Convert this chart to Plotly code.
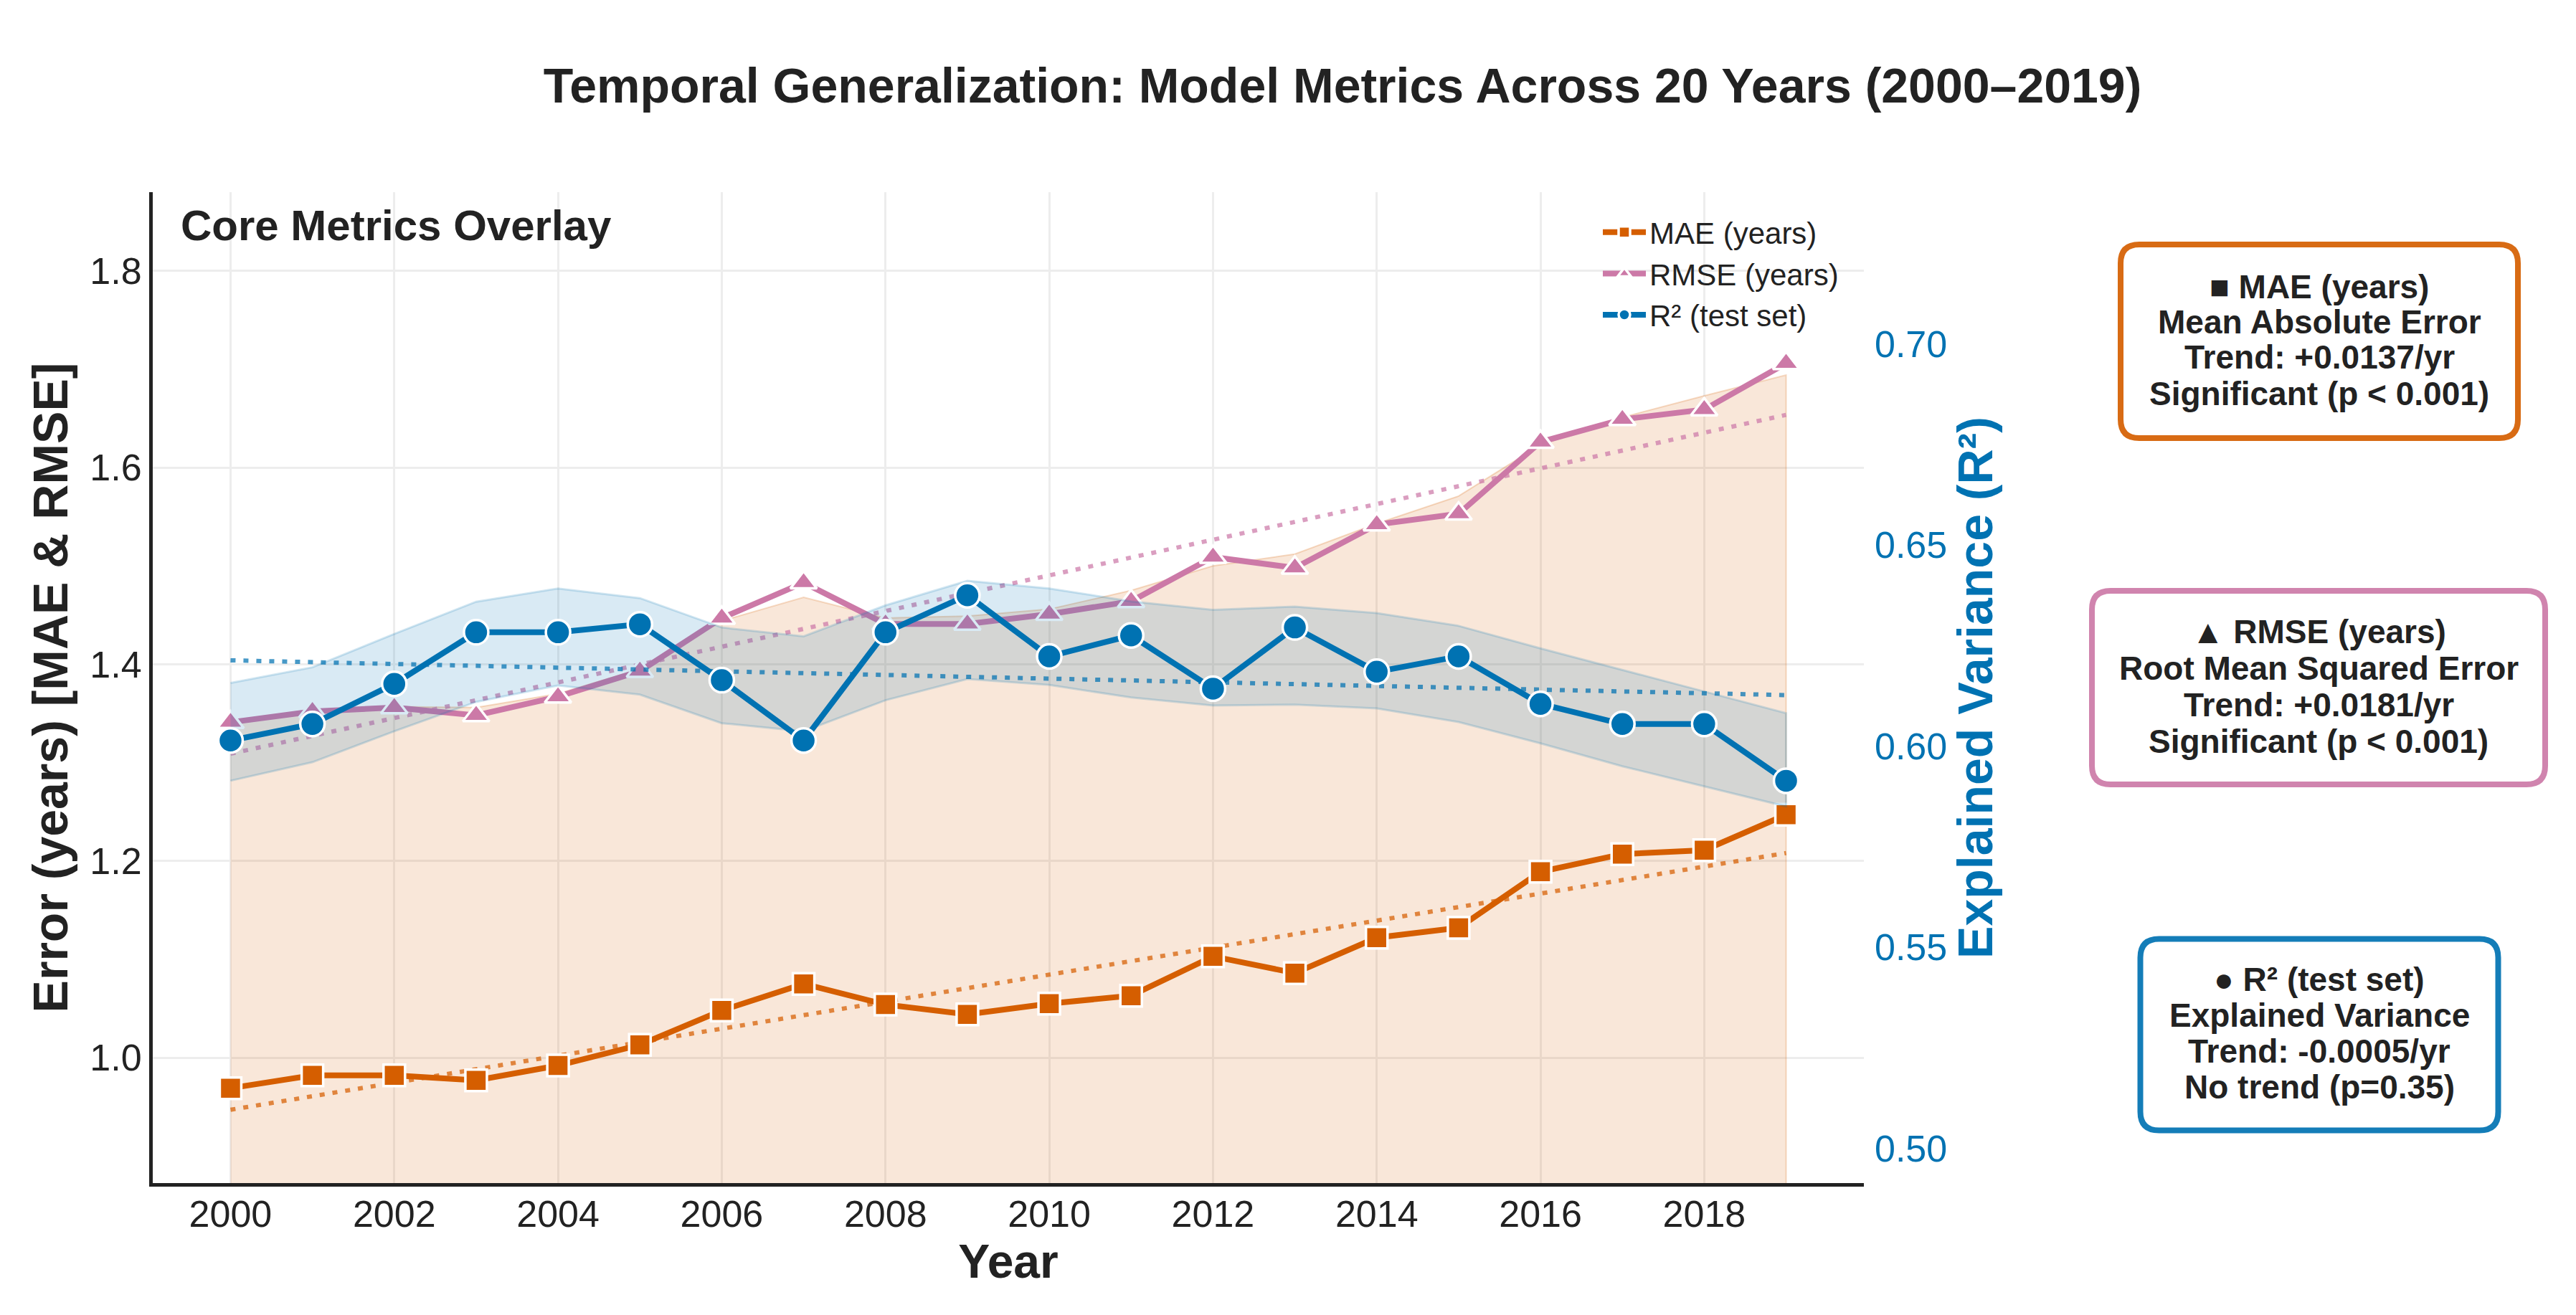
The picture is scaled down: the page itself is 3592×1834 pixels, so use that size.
import numpy as np
import plotly.graph_objects as go

# ---------------- data ----------------
years = list(range(2000, 2020))
mae = [0.969, 0.982, 0.982, 0.977, 0.992, 1.013, 1.048, 1.075, 1.054, 1.044,
       1.055, 1.063, 1.103, 1.086, 1.122, 1.132, 1.189, 1.207, 1.211, 1.247]
rmse = [1.341, 1.352, 1.356, 1.348, 1.367, 1.393, 1.447, 1.483, 1.441, 1.441,
        1.451, 1.464, 1.509, 1.498, 1.542, 1.553, 1.626, 1.649, 1.659, 1.706]
r2 = [0.6014, 0.6055, 0.6155, 0.6283, 0.6283, 0.6303, 0.6164, 0.6014, 0.6283, 0.6375,
      0.6223, 0.6275, 0.6143, 0.6295, 0.6185, 0.6223, 0.6105, 0.6055, 0.6055, 0.5914]
r2_upper = [0.6157, 0.6196, 0.6279, 0.6359, 0.6392, 0.6368, 0.6295, 0.6273, 0.6350, 0.6411,
            0.6392, 0.6360, 0.6339, 0.6347, 0.6331, 0.6299, 0.6243, 0.6190, 0.6136, 0.6082]
r2_lower = [0.5914, 0.5960, 0.6037, 0.6110, 0.6151, 0.6128, 0.6057, 0.6037, 0.6114, 0.6167,
            0.6152, 0.6121, 0.6101, 0.6103, 0.6094, 0.6060, 0.6007, 0.5950, 0.5900, 0.5850]
error_envelope = [1.341, 1.352, 1.357, 1.356, 1.370, 1.395, 1.444, 1.468, 1.447, 1.449,
                  1.456, 1.475, 1.500, 1.512, 1.543, 1.571, 1.623, 1.651, 1.673, 1.694]

x_ticks = list(range(2000, 2019, 2))
left_ticks = [1.0, 1.2, 1.4, 1.6, 1.8]
right_ticks = [0.50, 0.55, 0.60, 0.65, 0.70]

series_names = ["MAE (years)", "RMSE (years)", "R² (test set)"]
box_lines = [
    ["■ MAE (years)", "Mean Absolute Error", "Trend: +0.0137/yr", "Significant (p < 0.001)"],
    ["▲ RMSE (years)", "Root Mean Squared Error", "Trend: +0.0181/yr", "Significant (p < 0.001)"],
    ["● R² (test set)", "Explained Variance", "Trend: -0.0005/yr", "No trend (p=0.35)"],
]

# ---------------- styling ----------------
C_MAE, C_RMSE, C_R2 = "#D55E00", "#CC79A7", "#0072B2"
TXT = "#222222"
FONT = "Liberation Sans, Arial, sans-serif"

W, H = 3592, 1834
ML, MR, MT, MB = 213, 993, 268, 184
PW, PH = W - ML - MR, H - MT - MB


def px_x(px):
    return (px - ML) / PW


def px_y(py):
    return (H - MB - py) / PH


def trend(vals):
    c = np.polyfit(years, vals, 1)
    return np.polyval(c, years)


fig = go.Figure()

# peach error envelope (left axis)
fig.add_trace(go.Scatter(
    x=years + [years[-1], years[0]], y=error_envelope + [0, 0],
    fill="toself", fillcolor="rgba(213,94,0,0.15)",
    line=dict(color="rgba(213,94,0,0.22)", width=2),
    mode="lines", showlegend=False, hoverinfo="skip", yaxis="y"))

DOT = "7px,11px"
# trend lines (left axis)
fig.add_trace(go.Scatter(x=years, y=trend(mae), mode="lines", showlegend=False,
                         line=dict(color="rgba(213,94,0,0.72)", width=6, dash=DOT),
                         hoverinfo="skip"))
fig.add_trace(go.Scatter(x=years, y=trend(rmse), mode="lines", showlegend=False,
                         line=dict(color="rgba(204,121,167,0.72)", width=6, dash=DOT),
                         hoverinfo="skip"))

# MAE & RMSE
fig.add_trace(go.Scatter(
    x=years, y=mae, name=series_names[0], mode="lines+markers",
    line=dict(color=C_MAE, width=8),
    marker=dict(symbol="square", size=30, color=C_MAE, line=dict(color="white", width=3.5))))
fig.add_trace(go.Scatter(
    x=years, y=rmse, name=series_names[1], mode="lines+markers",
    line=dict(color=C_RMSE, width=8),
    marker=dict(symbol="triangle-up", size=32, color=C_RMSE, line=dict(color="white", width=3.5))))

# R2 band (right axis)
fig.add_trace(go.Scatter(
    x=years + years[::-1], y=r2_upper + r2_lower[::-1], yaxis="y2",
    fill="toself", fillcolor="rgba(0,114,178,0.15)",
    line=dict(color="rgba(0,114,178,0.18)", width=3),
    mode="lines", showlegend=False, hoverinfo="skip"))
fig.add_trace(go.Scatter(x=years, y=trend(r2), yaxis="y2", mode="lines", showlegend=False,
                         line=dict(color="rgba(0,114,178,0.72)", width=6, dash=DOT),
                         hoverinfo="skip"))
fig.add_trace(go.Scatter(
    x=years, y=r2, name=series_names[2], yaxis="y2", mode="lines+markers",
    line=dict(color=C_R2, width=8),
    marker=dict(symbol="circle", size=34, color=C_R2, line=dict(color="white", width=3.5))))

# ---------------- layout ----------------
fig.update_layout(
    width=W, height=H,
    paper_bgcolor="white", plot_bgcolor="white",
    margin=dict(l=ML, r=MR, t=MT, b=MB, autoexpand=False),
    font=dict(family=FONT, color=TXT),
    title=dict(text="Temporal Generalization: Model Metrics Across 20 Years (2000–2019)",
               x=1872 / W, xref="container", xanchor="center",
               y=1 - 119 / H, yref="container", yanchor="middle",
               font=dict(size=68, weight="bold", color=TXT, family=FONT)),
    xaxis=dict(range=[1999.05, 2019.95], tickvals=x_ticks, ticktext=[str(v) for v in x_ticks],
               showgrid=True, gridcolor="#EDEDED", gridwidth=3,
               showline=True, linecolor=TXT, linewidth=5, zeroline=False, ticks="",
               ticklabelstandoff=-6,
               tickfont=dict(size=52, color=TXT),
               title=dict(text="Year", font=dict(size=66, weight="bold", color=TXT), standoff=9)),
    yaxis=dict(range=[0.8725, 1.88], tickvals=left_ticks, tickformat=".1f",
               showgrid=True, gridcolor="#EDEDED", gridwidth=3,
               showline=True, linecolor=TXT, linewidth=5, zeroline=False, ticks="",
               tickfont=dict(size=52, color=TXT),
               title=dict(text="Error (years) [MAE & RMSE]",
                          font=dict(size=68, weight="bold", color=TXT), standoff=10)),
    yaxis2=dict(range=[0.4914, 0.7377], tickvals=right_ticks, tickformat=".2f",
                overlaying="y", side="right", showgrid=False, showline=False,
                zeroline=False, ticks="", ticklabelstandoff=14,
                tickfont=dict(size=52, color=C_R2),
                title=dict(text="Explained Variance (R²)",
                           font=dict(size=68, weight="bold", color=C_R2), standoff=16)),
    legend=dict(x=px_x(2569), xanchor="right", y=px_y(290), yanchor="top",
                bgcolor="rgba(255,255,255,0)", font=dict(size=42, color=TXT),
                itemwidth=60, tracegroupgap=0),
    showlegend=True,
)

fig.add_annotation(text="Core Metrics Overlay", xref="paper", yref="paper",
                   x=px_x(250), y=px_y(314), xanchor="left", yanchor="middle",
                   showarrow=False, font=dict(size=60, weight="bold", color=TXT))

# ---------------- summary boxes ----------------
def rounded_rect(hw, hh, r):
    return (f"M {-hw + r},{-hh} L {hw - r},{-hh} Q {hw},{-hh} {hw},{-hh + r} "
            f"L {hw},{hh - r} Q {hw},{hh} {hw - r},{hh} L {-hw + r},{hh} "
            f"Q {-hw},{hh} {-hw},{hh - r} L {-hw},{-hh + r} Q {-hw},{-hh} {-hw + r},{-hh} Z")


boxes = [  # (center x px, center y px, width, height, colour, line y centres)
    (3234, 476, 554, 270, "rgba(213,94,0,0.92)", [400, 449, 498, 549]),
    (3233, 959, 632, 270, "rgba(204,121,167,0.92)", [881, 932, 983, 1034]),
    (3234, 1443, 499, 267, "rgba(0,114,178,0.92)", [1366, 1416, 1466, 1516]),
]
for (cx, cy, bw, bh, col, ly), lines in zip(boxes, box_lines):
    fig.add_shape(type="path", xref="paper", yref="paper",
                  xsizemode="pixel", ysizemode="pixel",
                  xanchor=px_x(cx), yanchor=px_y(cy),
                  path=rounded_rect(bw / 2, bh / 2, 26),
                  line=dict(color=col, width=8), fillcolor="white", layer="above")
    for txt, yy in zip(lines, ly):
        fig.add_annotation(text=txt, xref="paper", yref="paper",
                           x=px_x(cx), y=px_y(yy), xanchor="center", yanchor="middle",
                           showarrow=False, font=dict(size=46, weight="bold", color=TXT))

fig.write_html("out.html")
